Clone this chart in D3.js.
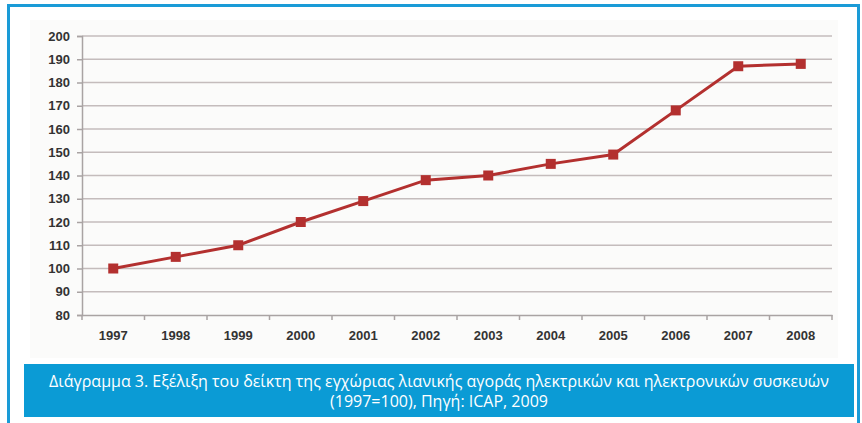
<!DOCTYPE html>
<html lang="el">
<head>
  <meta charset="UTF-8">
  <title>Διάγραμμα 3</title>
  <script src="https://d3js.org/d3.v7.min.js"></script>
  <style>
    body { margin: 0; background: #fff; }
    svg { display: block; }
    .tick-label { font-family: "Liberation Sans", "DejaVu Sans", sans-serif; font-weight: bold; font-size: 13px; fill: #333; }
    .caption { font-family: "Open Sans", sans-serif; font-size: 16px; fill: #fff; }
  </style>
</head>
<body>
  <svg width="862" height="423"></svg>

  <script>
    // data
    const years = ["1997", "1998", "1999", "2000", "2001", "2002", "2003", "2004", "2005", "2006", "2007", "2008"];
    const indexValues = [100, 105, 110, 120, 129, 138, 140, 145, 149, 168, 187, 188];
    const yTicks = [80, 90, 100, 110, 120, 130, 140, 150, 160, 170, 180, 190, 200];
    const captionLines = [
      "Διάγραμμα 3. Εξέλιξη του δείκτη της εγχώριας λιανικής αγοράς ηλεκτρικών και ηλεκτρονικών συσκευών",
      "(1997=100), Πηγή: ICAP, 2009"
    ];

    const svg = d3.select("svg");
    const margin = { top: 36, left: 82 };
    const plotRight = 832, plotBottom = 315;

    // outer blue frame
    svg.append("rect")
      .attr("x", 8.5).attr("y", 5.5)
      .attr("width", 850).attr("height", 430)
      .attr("fill", "none").attr("stroke", "#1a9bd7").attr("stroke-width", 3);

    // faint chart background
    svg.append("rect")
      .attr("x", 30).attr("y", 20).attr("width", 808).attr("height", 338)
      .attr("fill", "#fbfbfa");

    const x = d3.scaleBand().domain(years).range([margin.left, plotRight]);
    const y = d3.scaleLinear().domain([80, 200]).range([plotBottom, margin.top]);

    // gridlines
    svg.append("g")
      .selectAll("line")
      .data(yTicks.filter(t => t > 80))
      .join("line")
      .attr("x1", margin.left).attr("x2", plotRight)
      .attr("y1", d => y(d)).attr("y2", d => y(d))
      .attr("stroke", "#c4bcbc").attr("stroke-width", 1.5);

    // y axis
    const yAxis = svg.append("g")
      .attr("transform", `translate(${margin.left},0)`)
      .call(d3.axisLeft(y).tickValues(yTicks).tickSize(5).tickPadding(7));
    yAxis.select(".domain").attr("stroke", "#a9a3a3").attr("stroke-width", 1.5);
    yAxis.selectAll(".tick line").attr("stroke", "#a9a3a3").attr("stroke-width", 1.5);
    yAxis.selectAll(".tick text").attr("class", "tick-label");

    // x axis
    const xAxis = svg.append("g")
      .attr("transform", `translate(0,${plotBottom})`)
      .call(d3.axisBottom(x).tickSize(0).tickPadding(16));
    xAxis.select(".domain").attr("stroke", "#a9a3a3").attr("stroke-width", 1.5);
    xAxis.selectAll(".tick text").attr("class", "tick-label");
    // category boundary ticks
    svg.append("g")
      .selectAll("line")
      .data(years.concat(["end"]))
      .join("line")
      .attr("x1", (d, i) => i < years.length ? x(d) : plotRight)
      .attr("x2", (d, i) => i < years.length ? x(d) : plotRight)
      .attr("y1", plotBottom).attr("y2", plotBottom + 5)
      .attr("stroke", "#a9a3a3").attr("stroke-width", 1.5);

    // series line
    const pts = years.map((yr, i) => [x(yr) + x.bandwidth() / 2, y(indexValues[i])]);
    svg.append("path")
      .attr("d", d3.line()(pts))
      .attr("fill", "none")
      .attr("stroke", "#b3302f")
      .attr("stroke-width", 3);

    svg.append("g")
      .selectAll("rect")
      .data(pts)
      .join("rect")
      .attr("x", d => d[0] - 5).attr("y", d => d[1] - 5)
      .attr("width", 10).attr("height", 10)
      .attr("fill", "#b3302f");

    // caption box
    svg.append("rect")
      .attr("x", 24).attr("y", 364).attr("width", 830).attr("height", 53)
      .attr("fill", "#0b9bd5");

    svg.append("g")
      .selectAll("text")
      .data(captionLines)
      .join("text")
      .attr("class", "caption")
      .attr("x", 439)
      .attr("y", (d, i) => 387 + i * 20)
      .attr("text-anchor", "middle")
      .text(d => d);
  </script>
</body>
</html>
